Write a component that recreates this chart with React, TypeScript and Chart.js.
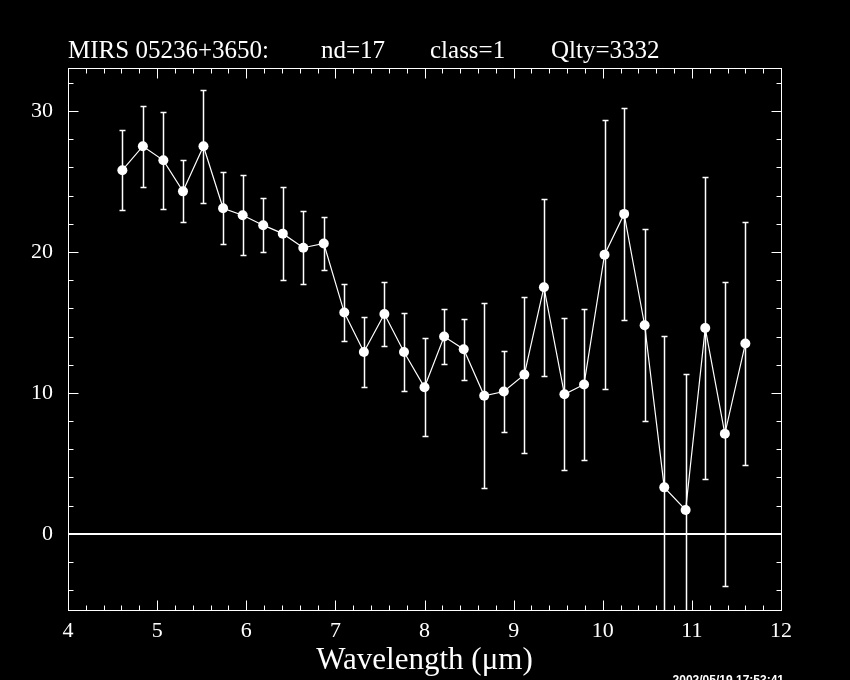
import React, { useEffect, useRef } from "react";
import { Chart, registerables } from "chart.js";

Chart.register(...registerables);

// ---- Data ----
const wavelengths = [
  4.61, 4.84, 5.07, 5.29, 5.52, 5.74, 5.96, 6.19, 6.41, 6.64, 6.87, 7.1, 7.32,
  7.55, 7.77, 8.0, 8.22, 8.44, 8.67, 8.89, 9.12, 9.34, 9.57, 9.79, 10.02,
  10.24, 10.47, 10.69, 10.93, 11.15, 11.37, 11.6,
];
const fluxes = [
  25.8, 27.5, 26.5, 24.3, 27.5, 23.1, 22.6, 21.9, 21.3, 20.3, 20.6, 15.7, 12.9,
  15.6, 12.9, 10.4, 14.0, 13.1, 9.8, 10.1, 11.3, 17.5, 9.9, 10.6, 19.8, 22.7,
  14.8, 3.3, 1.7, 14.6, 7.1, 13.5,
];
const errors = [
  2.85, 2.87, 3.46, 2.19, 4.0, 2.57, 2.85, 1.9, 3.3, 2.6, 1.9, 2.0, 2.5, 2.27,
  2.75, 3.48, 1.96, 2.15, 6.56, 2.86, 5.53, 6.29, 5.38, 5.37, 9.53, 7.54, 6.8,
  10.71, 9.67, 10.74, 10.8, 8.63,
];

const xTickValues = [4, 5, 6, 7, 8, 9, 10, 11, 12];
const yTickValues = [0, 10, 20, 30];
const xMinorStep = 0.2;
const yMinorStep = 2;

const titleParts = ["MIRS 05236+3650:", "nd=17", "class=1", "Qlty=3332"];
const xAxisLabel = "Wavelength (\u03BCm)";
const timestamp = "2002/05/19 17:53:41";

const X_MIN = 4;
const X_MAX = 12;
const Y_MIN = -5.4;
const Y_MAX = 33.05;

const decorPlugin = {
  id: "pgplotDecor",
  beforeDatasetsDraw(chart: any) {
    const { ctx, chartArea: a, scales } = chart;
    const x = scales.x;
    const y = scales.y;
    ctx.save();
    ctx.beginPath();
    ctx.rect(a.left, a.top, a.right - a.left, a.bottom - a.top);
    ctx.clip();
    ctx.strokeStyle = "#ffffff";
    // zero line
    ctx.lineWidth = 2;
    const y0 = Math.round(y.getPixelForValue(0));
    ctx.beginPath();
    ctx.moveTo(a.left, y0);
    ctx.lineTo(a.right, y0);
    ctx.stroke();
    // error bars
    ctx.lineWidth = 1.5;
    wavelengths.forEach((w, i) => {
      const px = Math.round(x.getPixelForValue(w)) + 0.5;
      const top = Math.round(y.getPixelForValue(fluxes[i] + errors[i])) + 0.5;
      const bot = Math.round(y.getPixelForValue(fluxes[i] - errors[i])) + 0.5;
      ctx.beginPath();
      ctx.moveTo(px, top);
      ctx.lineTo(px, bot);
      ctx.moveTo(px - 3, top);
      ctx.lineTo(px + 3, top);
      ctx.moveTo(px - 3, bot);
      ctx.lineTo(px + 3, bot);
      ctx.stroke();
    });
    ctx.restore();
  },
  afterDraw(chart: any) {
    const { ctx, chartArea: a, scales } = chart;
    const x = scales.x;
    const y = scales.y;
    ctx.save();
    ctx.strokeStyle = "#ffffff";
    ctx.lineWidth = 1;
    const L = Math.round(a.left) + 0.5;
    const R = Math.round(a.right) + 0.5;
    const T = Math.round(a.top) + 0.5;
    const B = Math.round(a.bottom) + 0.5;
    ctx.strokeRect(L, T, R - L, B - T);

    const major = 10;
    const minor = 5;
    ctx.beginPath();
    // x ticks (bottom and top)
    const nx = Math.round((X_MAX - X_MIN) / xMinorStep);
    for (let k = 0; k <= nx; k++) {
      const v = X_MIN + k * xMinorStep;
      const isMajor = xTickValues.some((t) => Math.abs(t - v) < 1e-6);
      const len = isMajor ? major : minor;
      const px = Math.round(x.getPixelForValue(v)) + 0.5;
      ctx.moveTo(px, B);
      ctx.lineTo(px, B - len);
      ctx.moveTo(px, T);
      ctx.lineTo(px, T + len);
    }
    // y ticks (left and right)
    const startY = Math.ceil(Y_MIN / yMinorStep) * yMinorStep;
    for (let v = startY; v <= Y_MAX + 1e-6; v += yMinorStep) {
      const isMajor = yTickValues.some((t) => Math.abs(t - v) < 1e-6);
      const len = isMajor ? major : minor;
      const py = Math.round(y.getPixelForValue(v)) + 0.5;
      ctx.moveTo(L, py);
      ctx.lineTo(L + len, py);
      ctx.moveTo(R, py);
      ctx.lineTo(R - len, py);
    }
    ctx.stroke();

    // title
    ctx.fillStyle = "#ffffff";
    ctx.textBaseline = "alphabetic";
    ctx.textAlign = "left";
    ctx.font = "25px 'Liberation Serif'";
    const titleX = [68, 321, 430, 551];
    titleParts.forEach((t, i) => ctx.fillText(t, titleX[i], 58));

    // x axis label
    ctx.textAlign = "center";
    ctx.font = "31px 'Liberation Serif'";
    ctx.fillText(xAxisLabel, (a.left + a.right) / 2, 669);

    // timestamp
    ctx.textAlign = "right";
    ctx.font = "bold 12px 'Liberation Sans'";
    ctx.fillText(timestamp, 784, 684);
    ctx.restore();
  },
};

export default function App() {
  const ref = useRef<HTMLCanvasElement>(null);
  useEffect(() => {
    const chart = new Chart(ref.current as HTMLCanvasElement, {
      type: "scatter",
      data: {
        datasets: [
          {
            data: wavelengths.map((w, i) => ({ x: w, y: fluxes[i] })),
            showLine: true,
            borderColor: "#ffffff",
            borderWidth: 1.2,
            pointRadius: 5,
            pointBackgroundColor: "#ffffff",
            pointBorderColor: "#ffffff",
            pointBorderWidth: 0,
          },
        ],
      },
      options: {
        responsive: false,
        animation: false,
        devicePixelRatio: 1,
        layout: { padding: { left: 8, right: 69, top: 68, bottom: 0 } },
        plugins: {
          legend: { display: false },
          tooltip: { enabled: false },
          title: { display: false },
        },
        scales: {
          x: {
            type: "linear",
            min: X_MIN,
            max: X_MAX,
            grid: { display: false, drawTicks: false },
            border: { display: false },
            afterBuildTicks: (s: any) => {
              s.ticks = xTickValues.map((v) => ({ value: v }));
            },
            afterFit: (s: any) => {
              s.height = 70;
            },
            ticks: {
              color: "#ffffff",
              font: { family: "'Liberation Serif'", size: 22 },
              padding: 8,
              maxRotation: 0,
              autoSkip: false,
              callback: (v: any) => String(v),
            },
          },
          y: {
            type: "linear",
            min: Y_MIN,
            max: Y_MAX,
            grid: { display: false, drawTicks: false },
            border: { display: false },
            afterBuildTicks: (s: any) => {
              s.ticks = yTickValues.map((v) => ({ value: v }));
            },
            afterFit: (s: any) => {
              s.width = 60;
            },
            ticks: {
              color: "#ffffff",
              font: { family: "'Liberation Serif'", size: 22 },
              padding: 15,
              autoSkip: false,
              callback: (v: any) => String(v),
            },
          },
        },
      },
      plugins: [decorPlugin],
    } as any);
    return () => chart.destroy();
  }, []);
  return (
    <div
      style={{
        position: "fixed",
        left: 0,
        top: 0,
        width: 850,
        height: 680,
        background: "#000000",
        overflow: "hidden",
      }}
    >
      <canvas
        ref={ref}
        width={850}
        height={680}
        style={{ display: "block", width: 850, height: 680 }}
      />
    </div>
  );
}
